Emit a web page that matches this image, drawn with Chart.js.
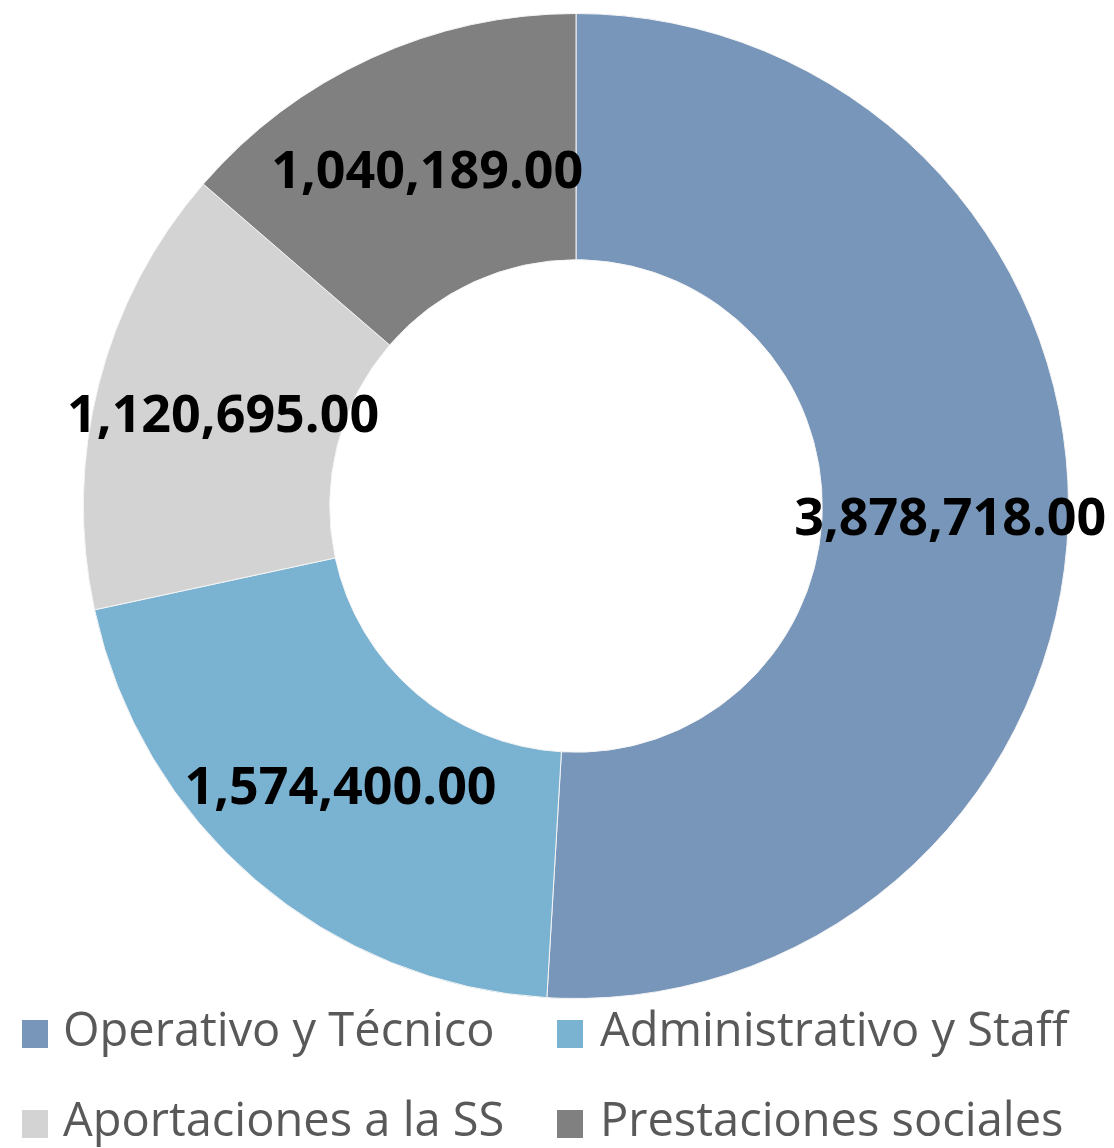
<!DOCTYPE html>
<html>
<head>
<meta charset="utf-8">
<script src="https://cdn.jsdelivr.net/npm/chart.js@4.4.1/dist/chart.umd.min.js"></script>
<style>
  html, body { margin: 0; padding: 0; background: #fff; }
  #wrap { position: relative; width: 1114px; height: 1148px; overflow: hidden; }
  #c { position: absolute; left: 0; top: 0; }
  .leg { position: absolute; font-family: "Open Sans", sans-serif; font-size: 47px; color: #595959; white-space: nowrap; line-height: 1; }
  .leg .box { position: absolute; width: 26px; height: 28px; }
  .leg .txt { position: absolute; }
</style>
</head>
<body>
<div id="wrap">
  <canvas id="c" width="1114" height="1148"></canvas>
  <div id="legend"></div>
</div>
<script>
const categories = ["Operativo y Técnico", "Administrativo y Staff", "Aportaciones a la SS", "Prestaciones sociales"];
const values = [3878718, 1574400, 1120695, 1040189];
const colors = ["#7896BA", "#7AB2D2", "#D3D3D3", "#808080"];

const fmt = v => v.toLocaleString('en-US', { minimumFractionDigits: 2, maximumFractionDigits: 2 });

const labelPlugin = {
  id: 'sliceLabels',
  afterDatasetsDraw(chart) {
    const ctx = chart.ctx;
    const meta = chart.getDatasetMeta(0);
    ctx.save();
    ctx.font = 'bold 52px "Open Sans", sans-serif';
    ctx.fillStyle = '#000';
    ctx.textAlign = 'center';
    ctx.textBaseline = 'middle';
    meta.data.forEach((arc, i) => {
      const p = arc.tooltipPosition();
      ctx.fillText(fmt(values[i]), p.x + 5, p.y + 3);
    });
    ctx.restore();
  }
};

const chart = new Chart(document.getElementById('c'), {
  type: 'doughnut',
  data: {
    labels: categories,
    datasets: [{
      data: values,
      backgroundColor: colors,
      borderColor: '#f4f4f4',
      borderWidth: 1
    }]
  },
  options: {
    responsive: false,
    animation: false,
    cutout: '50%',
    layout: { padding: { top: 13, bottom: 149, left: 38, right: 0 } },
    plugins: { legend: { display: false }, tooltip: { enabled: false } }
  },
  plugins: [labelPlugin]
});

const legendPos = [
  { bx: 22, tx: 63, y: 1020 },
  { bx: 557, tx: 600, y: 1020 },
  { bx: 22, tx: 63, y: 1110 },
  { bx: 557, tx: 600, y: 1110 }
];
const legend = document.getElementById('legend');
chart.data.labels.forEach((lab, i) => {
  const p = legendPos[i];
  const box = document.createElement('div');
  box.className = 'leg';
  box.innerHTML = '<div class="box" style="left:' + p.bx + 'px;top:' + p.y + 'px;background:' + colors[i] + '"></div>' +
    '<div class="txt" style="left:' + p.tx + 'px;top:' + (p.y - 15) + 'px">' + lab + '</div>';
  legend.appendChild(box);
});
</script>
</body>
</html>
